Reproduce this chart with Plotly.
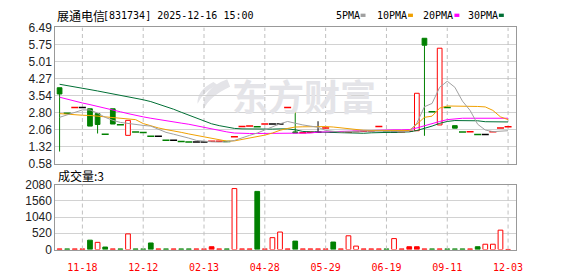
import plotly.graph_objects as go

# ---------------- data ----------------
title_name = "展通电信"
title_code = "[831734] 2025-12-16 15:00"
vol_title = "成交量:3"
watermark = "东方财富"

date_tick_pos = [3, 11, 19, 27, 35, 43, 51, 59]
date_ticks = ["11-18", "12-12", "02-13", "04-28", "05-29", "06-19", "09-11", "12-03"]

price_ticks = [0.58, 1.32, 2.06, 2.80, 3.54, 4.27, 5.01, 5.75, 6.49]
vol_ticks = [0, 520, 1040, 1560, 2080]

open_ = [3.88, 2.78, 3.02, 3.02, 2.97, 2.76, 1.87, 2.97, 2.28, 1.82,
         1.97, 1.94, 1.78, 1.78, 1.61, 1.61, 1.55, 1.53, 1.53, 1.53,
         1.56, 1.57, 1.55, 1.76, 2.20, 2.22, 2.19, 2.31, 2.31, 2.31,
         3.02, 1.97, 1.93, 1.95, 1.95, 2.14, 1.95, 1.96, 1.97, 1.99,
         2.00, 2.01, 2.20, 1.97, 1.97, 1.98, 2.00, 2.02, 6.02, 2.84,
         2.27, 3.02, 2.24, 1.97, 1.98, 1.86, 1.86, 1.98, 2.14, 2.19]
high = [3.88, 2.78, 3.02, 3.02, 2.97, 2.76, 1.87, 2.97, 2.28, 2.47,
        1.97, 1.94, 1.78, 1.78, 1.61, 1.61, 1.55, 1.53, 1.53, 1.53,
        1.56, 1.57, 1.55, 1.76, 2.20, 2.22, 2.19, 2.31, 2.31, 2.31,
        3.02, 2.88, 1.93, 1.95, 2.43, 2.14, 1.95, 1.96, 1.97, 1.99,
        2.00, 2.01, 2.20, 1.97, 1.97, 1.98, 2.00, 3.64, 6.02, 2.84,
        5.59, 3.02, 2.24, 1.97, 1.98, 1.86, 1.86, 1.98, 2.14, 2.19]
low = [1.12, 2.78, 3.02, 3.02, 2.22, 1.90, 1.87, 2.31, 2.28, 1.82,
       1.97, 1.94, 1.78, 1.78, 1.61, 1.61, 1.55, 1.53, 1.53, 1.53,
       1.56, 1.57, 1.55, 1.76, 2.20, 2.22, 2.19, 2.31, 2.31, 2.31,
       3.02, 1.92, 1.93, 1.95, 1.94, 2.14, 1.95, 1.96, 1.97, 1.99,
       2.00, 2.01, 2.20, 1.97, 1.97, 1.98, 2.00, 2.02, 1.80, 2.84,
       2.27, 3.02, 2.13, 1.97, 1.98, 1.86, 1.86, 1.98, 2.14, 2.19]
close = [3.61, 2.78, 3.02, 3.02, 2.22, 2.29, 1.87, 2.31, 2.28, 2.47,
         1.97, 1.94, 1.78, 1.78, 1.61, 1.61, 1.55, 1.53, 1.53, 1.53,
         1.56, 1.57, 1.55, 1.76, 2.20, 2.22, 2.19, 2.31, 2.31, 2.31,
         3.02, 1.92, 1.93, 1.95, 1.95, 2.14, 1.95, 1.96, 1.97, 1.99,
         2.00, 2.01, 2.20, 1.97, 1.97, 1.98, 2.00, 3.64, 5.72, 2.84,
         5.59, 3.02, 2.13, 1.97, 1.98, 1.86, 1.86, 1.98, 2.14, 2.19]

volume = [20, 20, 20, 20, 300, 230, 80, 20, 20, 500,
          20, 20, 210, 20, 20, 20, 20, 20, 20, 20,
          90, 20, 20, 1950, 20, 20, 1860, 20, 380, 560,
          20, 270, 20, 20, 20, 20, 240, 20, 440, 110,
          20, 20, 20, 20, 350, 20, 90, 90, 20, 20,
          20, 20, 20, 20, 20, 90, 170, 170, 620, 3]
# r = red hollow, R = red solid, g = green solid
vol_style = ["R", "g", "R", "R", "g", "r", "g", "R", "g", "r",
             "g", "g", "g", "R", "g", "R", "g", "g", "R", "R",
             "R", "R", "g", "r", "R", "R", "g", "R", "r", "r",
             "R", "g", "R", "R", "R", "R", "g", "R", "r", "r",
             "R", "R", "R", "g", "r", "R", "R", "R", "R", "g",
             "R", "g", "g", "g", "R", "g", "r", "r", "r", "R"]

ma5 = [2.60, 2.70, 2.80, 2.92, 2.92, 2.78, 2.60, 2.47, 2.38, 2.33,
       2.28, 2.25, 2.22, 2.10, 1.95, 1.87, 1.80, 1.70, 1.60, 1.56,
       1.54, 1.53, 1.54, 1.60, 1.72, 1.82, 1.92, 2.05, 2.20, 2.32,
       2.42, 2.33, 2.27, 2.22, 2.17, 2.03, 1.98, 1.96, 1.98, 2.00,
       2.01, 2.00, 2.00, 1.99, 1.99, 1.99, 1.99, 2.35, 3.06, 3.20,
       3.90, 4.16, 3.90, 3.30, 2.90, 2.30, 2.05, 1.98, 2.00, 2.02]
ma10 = [2.76, 2.73, 2.71, 2.69, 2.68, 2.65, 2.63, 2.60, 2.57, 2.55,
        2.50, 2.33, 2.22, 2.14, 2.07, 2.02, 1.95, 1.88, 1.82, 1.75,
        1.68, 1.62, 1.57, 1.58, 1.64, 1.69, 1.76, 1.83, 1.92, 2.04,
        2.12, 2.18, 2.19, 2.20, 2.20, 2.20, 2.18, 2.14, 2.10, 2.07,
        2.04, 2.03, 2.03, 2.03, 2.03, 2.03, 2.03, 2.30, 2.60, 2.65,
        3.00, 3.09, 3.09, 3.09, 3.09, 3.07, 3.05, 2.90, 2.62, 2.50]
ma20 = [3.47, 3.38, 3.30, 3.22, 3.15, 3.08, 3.00, 2.92, 2.84, 2.76,
        2.68, 2.62, 2.56, 2.50, 2.45, 2.40, 2.35, 2.30, 2.23, 2.17,
        2.08, 2.02, 1.97, 1.92, 1.90, 1.90, 1.90, 1.90, 1.90, 1.90,
        1.90, 1.90, 1.90, 1.92, 1.96, 1.97, 1.98, 1.99, 2.01, 2.03,
        2.05, 2.06, 2.06, 2.06, 2.06, 2.06, 2.07, 2.14, 2.24, 2.33,
        2.42, 2.50, 2.54, 2.56, 2.56, 2.56, 2.56, 2.56, 2.56, 2.56]
ma30 = [4.03, 3.98, 3.92, 3.86, 3.80, 3.74, 3.68, 3.63, 3.57, 3.50,
        3.43, 3.36, 3.28, 3.18, 3.06, 2.95, 2.82, 2.70, 2.55, 2.44,
        2.32, 2.24, 2.17, 2.12, 2.10, 2.09, 2.08, 2.08, 2.09, 2.10,
        2.10, 2.06, 1.99, 1.97, 1.96, 1.96, 1.95, 1.95, 1.94, 1.92,
        1.91, 1.93, 1.94, 1.94, 1.94, 1.95, 1.97, 2.03, 2.12, 2.22,
        2.34, 2.42, 2.46, 2.46, 2.46, 2.45, 2.41, 2.40, 2.40, 2.40]

# ---------------- styles ----------------
RED = "#ff0000"
GREEN = "#008000"
BLACK = "#000000"
MA_COLORS = ["#a0a0a0", "#f0a000", "#ff00ff", "#006f35"]
GRID = "#d2d2d2"
VGRID = "#c0c0c0"
BORDER = "#999999"
WM = "#e4e4e8"
W, H = 578, 276
X0, X1 = 56 / W, 522 / W
XR = [-0.56, 60.0]
BODY_W = 0.62


def px(x):
    return x / W


def py(y):
    return 1 - y / H


n = len(close)
idx = list(range(n))

fig = go.Figure()

# dashed vertical date gridlines as line traces spanning each panel's value range
for xa, ya, lo, hi in (("x", "y", price_ticks[0], price_ticks[-1]),
                       ("x2", "y2", vol_ticks[0], vol_ticks[-1])):
    gx, gy = [], []
    for t in date_tick_pos:
        gx.extend([t, t, None]); gy.extend([lo, hi, None])
    fig.add_trace(go.Scatter(x=gx, y=gy, mode="lines", xaxis=xa, yaxis=ya, hoverinfo="skip",
                             line=dict(color=VGRID, width=1, dash="4px,3px")))

up_x, up_b, up_h, dn_x, dn_b, dn_h = [], [], [], [], [], []
flat = {RED: [[], []], GREEN: [[], []], BLACK: [[], []]}
wicks = {RED: [[], []], GREEN: [[], []], BLACK: [[], []]}
for i in idx:
    o, h, l, c = open_[i], high[i], low[i], close[i]
    if c > o:
        col = RED
        up_x.append(i); up_b.append(o); up_h.append(c - o)
    elif c < o:
        col = GREEN
        dn_x.append(i); dn_b.append(c); dn_h.append(o - c)
    else:
        prev = close[i - 1] if i > 0 else c
        col = RED if c > prev else (GREEN if c < prev else BLACK)
        flat[col][0].append(i); flat[col][1].append(c)
    lo_b, hi_b = min(o, c), max(o, c)
    if l < lo_b:
        wicks[col][0].extend([i, i, None]); wicks[col][1].extend([l, lo_b, None])
    if h > hi_b:
        wicks[col][0].extend([i, i, None]); wicks[col][1].extend([hi_b, h, None])

for col, (wx, wy) in wicks.items():
    if wx:
        fig.add_trace(go.Scatter(x=wx, y=wy, mode="lines", line=dict(color=col, width=1),
                                 xaxis="x", yaxis="y", hoverinfo="skip"))

fig.add_trace(go.Bar(x=up_x, y=up_h, base=up_b, width=BODY_W, xaxis="x", yaxis="y",
                     marker=dict(color="white", line=dict(color=RED, width=1))))
fig.add_trace(go.Bar(x=dn_x, y=dn_h, base=dn_b, width=BODY_W, xaxis="x", yaxis="y",
                     marker=dict(color=GREEN, line=dict(color=GREEN, width=1))))

for col, (fx, fy) in flat.items():
    if fx:
        fig.add_trace(go.Scatter(x=fx, y=fy, mode="markers", xaxis="x", yaxis="y",
                                 marker=dict(symbol="line-ew", size=5,
                                             line=dict(color=col, width=1.5))))

for ma, mc in zip([ma30, ma20, ma10, ma5], MA_COLORS[::-1]):
    fig.add_trace(go.Scatter(x=idx, y=ma, mode="lines", xaxis="x", yaxis="y",
                             line=dict(color=mc, width=1)))

fill = {"r": "white", "R": RED, "g": GREEN}
edge = {"r": RED, "R": RED, "g": GREEN}
fig.add_trace(go.Bar(x=idx, y=volume, width=BODY_W, xaxis="x2", yaxis="y2",
                     marker=dict(color=[fill[s] for s in vol_style],
                                 line=dict(color=[edge[s] for s in vol_style], width=1))))

tickfont = dict(family="Liberation Sans, Arial", size=12, color="#222222")
common_x = dict(domain=[X0, X1], range=XR, tickmode="array", tickvals=date_tick_pos,
                showgrid=False, showline=True, mirror=True,
                linecolor=BORDER, linewidth=1, zeroline=False, ticks="", fixedrange=True)
fig.update_layout(
    width=W, height=H, margin=dict(l=0, r=0, t=0, b=0),
    paper_bgcolor="white", plot_bgcolor="white", showlegend=False, barmode="overlay",
    xaxis=dict(common_x, anchor="y", showticklabels=False),
    yaxis=dict(domain=[py(165.4), py(21.5)], anchor="x", range=[0.58, 6.49],
               tickvals=price_ticks, ticktext=[f"{v:.2f}" for v in price_ticks],
               showgrid=True, gridcolor=GRID, showline=True, mirror=True, linecolor=BORDER,
               zeroline=False, ticks="", tickfont=tickfont),
    xaxis2=dict(common_x, anchor="y2", ticktext=date_ticks, ticklabelstandoff=8,
                tickfont=dict(family="DejaVu Sans Mono", size=10, color=RED)),
    yaxis2=dict(domain=[py(255.5), py(187)], anchor="x2", range=[0, 2080],
                tickvals=vol_ticks, ticktext=[str(v) for v in vol_ticks],
                showgrid=True, gridcolor=GRID, showline=True, mirror=True, linecolor=BORDER,
                zeroline=False, ticks="", tickfont=tickfont),
)

shapes = []
ann = []
ann.append(dict(x=px(308), y=py(93), text="<b>" + watermark + "</b>", showarrow=False,
                xanchor="center", yanchor="middle",
                xref="paper", yref="paper", font=dict(family="Noto Sans CJK SC", size=36, color=WM)))
ann.append(dict(x=px(56), y=py(9), text=title_name, showarrow=False, xanchor="left", yanchor="middle",
                xref="paper", yref="paper", font=dict(family="Noto Sans CJK SC", size=12, color="black")))
ann.append(dict(x=px(102), y=py(9), text=title_code, showarrow=False, xanchor="left", yanchor="middle",
                xref="paper", yref="paper", font=dict(family="DejaVu Sans Mono", size=10, color="black")))
ann.append(dict(x=px(57), y=py(177), text=vol_title, showarrow=False, xanchor="left", yanchor="middle",
                xref="paper", yref="paper", font=dict(family="Noto Sans CJK SC", size=12, color="black")))
legend_names = ["5PMA", "10PMA", "20PMA", "30PMA"]
legend_text_x = [338, 380, 426, 472]
legend_sq_x = [365, 413, 460, 505]
# watermark logo (swoosh)
shapes.append(dict(type="path", xref="paper", yref="paper", layer="below",
                   path=(f"M {px(230)},{py(76)} Q {px(204)},{py(86)} {px(206)},{py(108)} "
                         f"Q {px(212)},{py(94)} {px(233)},{py(84)} Z"),
                   fillcolor=WM, line=dict(width=0)))
shapes.append(dict(type="path", xref="paper", yref="paper", layer="below",
                   path=(f"M {px(216)},{py(79)} Q {px(199)},{py(88)} {px(200)},{py(102)} "
                         f"Q {px(205)},{py(90)} {px(220)},{py(82)} Z"),
                   fillcolor=WM, line=dict(width=0)))
for name, tx, sx, mc in zip(legend_names, legend_text_x, legend_sq_x, MA_COLORS):
    ann.append(dict(x=px(tx), y=py(9), text=name, showarrow=False, xanchor="left", yanchor="middle",
                    xref="paper", yref="paper", font=dict(family="DejaVu Sans Mono", size=10, color="black")))
    shapes.append(dict(type="rect", xref="paper", yref="paper", x0=px(sx), x1=px(sx + 5),
                       y0=py(10.5), y1=py(7), fillcolor=mc, line=dict(width=0)))
fig.update_layout(annotations=ann, shapes=shapes)

fig.write_html("out.html")
